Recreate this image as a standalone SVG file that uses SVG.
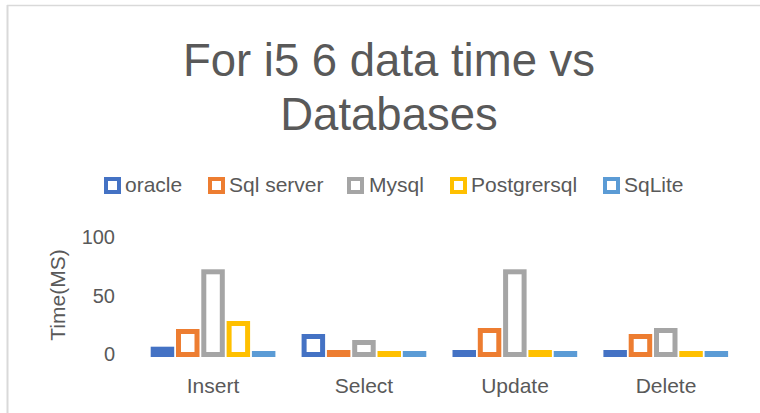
<svg xmlns="http://www.w3.org/2000/svg" width="760" height="413" viewBox="0 0 760 413">
<style>
text{font-family:"Liberation Sans",Arial,sans-serif;fill:#595959}
.title{font-size:45.5px;text-anchor:middle}
.lg{font-size:21px}
.ax{font-size:20px;text-anchor:end}
.cat{font-size:21px;text-anchor:middle}
.h{fill:#fff;stroke-width:5}
.ls{fill:#fff;stroke-width:4}
.b{fill:#4472C4}.o{fill:#ED7D31}.g{fill:#A5A5A5}.y{fill:#FFC000}.l{fill:#5B9BD5}
.hb{stroke:#4472C4}.ho{stroke:#ED7D31}.hg{stroke:#A5A5A5}.hy{stroke:#FFC000}.hl{stroke:#5B9BD5}
</style>
<rect x="0" y="0" width="760" height="413" fill="#fff"/>
<g id="frame" fill="none" stroke="#d9d9d9">
<line x1="7.5" y1="5" x2="7.5" y2="413" stroke-width="2"/>
<line x1="7" y1="5.5" x2="760" y2="5.5" stroke-width="1.5"/>
</g>
<g id="title">
<text class="title" x="389" y="76">For i5 6 data time vs</text>
<text class="title" x="389" y="130">Databases</text>
</g>
<g id="legend">
<g id="leg-oracle"><rect class="ls hb" x="106" y="179" width="13" height="13"/><text class="lg" x="125" y="192">oracle</text></g>
<g id="leg-sqlserver"><rect class="ls ho" x="210" y="179" width="13" height="13"/><text class="lg" x="229" y="192">Sql server</text></g>
<g id="leg-mysql"><rect class="ls hg" x="349" y="179" width="13" height="13"/><text class="lg" x="369" y="192">Mysql</text></g>
<g id="leg-postgres"><rect class="ls hy" x="452" y="179" width="13" height="13"/><text class="lg" x="471" y="192">Postgrersql</text></g>
<g id="leg-sqlite"><rect class="ls hl" x="605" y="179" width="13" height="13"/><text class="lg" x="624" y="192">SqLite</text></g>
</g>
<g id="axis">
<text class="ax" x="115" y="243.5">100</text>
<text class="ax" x="115" y="302.5">50</text>
<text class="ax" x="115" y="361">0</text>
<text class="lg" x="0" y="0" text-anchor="middle" transform="translate(65,295) rotate(-90)">Time(MS)</text>
</g>
<g id="insert">
<rect class="b" x="150.7" y="346.7" width="23.5" height="10.3"/>
<rect class="h ho" x="178.5" y="331.5" width="18.5" height="23"/>
<rect class="h hg" x="203.8" y="271.8" width="18.5" height="82.7"/>
<rect class="h hy" x="229.1" y="323.5" width="18.5" height="31"/>
<rect class="l" x="251.9" y="351" width="23.5" height="6"/>
<text class="cat" x="213" y="393">Insert</text>
</g>
<g id="select">
<rect class="h hb" x="304.1" y="336.5" width="18.5" height="18"/>
<rect class="o" x="326.9" y="350" width="23.5" height="7"/>
<rect class="h hg" x="354.7" y="342.5" width="18.5" height="12"/>
<rect class="y" x="377.5" y="351" width="23.5" height="6"/>
<rect class="l" x="402.8" y="351" width="23.5" height="6"/>
<text class="cat" x="364" y="393">Select</text>
</g>
<g id="update">
<rect class="b" x="452.5" y="350" width="23.5" height="7"/>
<rect class="h ho" x="480.3" y="330.5" width="18.5" height="24"/>
<rect class="h hg" x="505.6" y="271.8" width="18.5" height="82.7"/>
<rect class="y" x="528.4" y="350" width="23.5" height="7"/>
<rect class="l" x="553.7" y="351" width="23.5" height="6"/>
<text class="cat" x="515" y="393">Update</text>
</g>
<g id="delete">
<rect class="b" x="603.4" y="350" width="23.5" height="7"/>
<rect class="h ho" x="631.2" y="336.5" width="18.5" height="18"/>
<rect class="h hg" x="656.5" y="330.5" width="18.5" height="24"/>
<rect class="y" x="679.3" y="351" width="23.5" height="6"/>
<rect class="l" x="704.6" y="351" width="23.5" height="6"/>
<text class="cat" x="666" y="393">Delete</text>
</g>
</svg>
